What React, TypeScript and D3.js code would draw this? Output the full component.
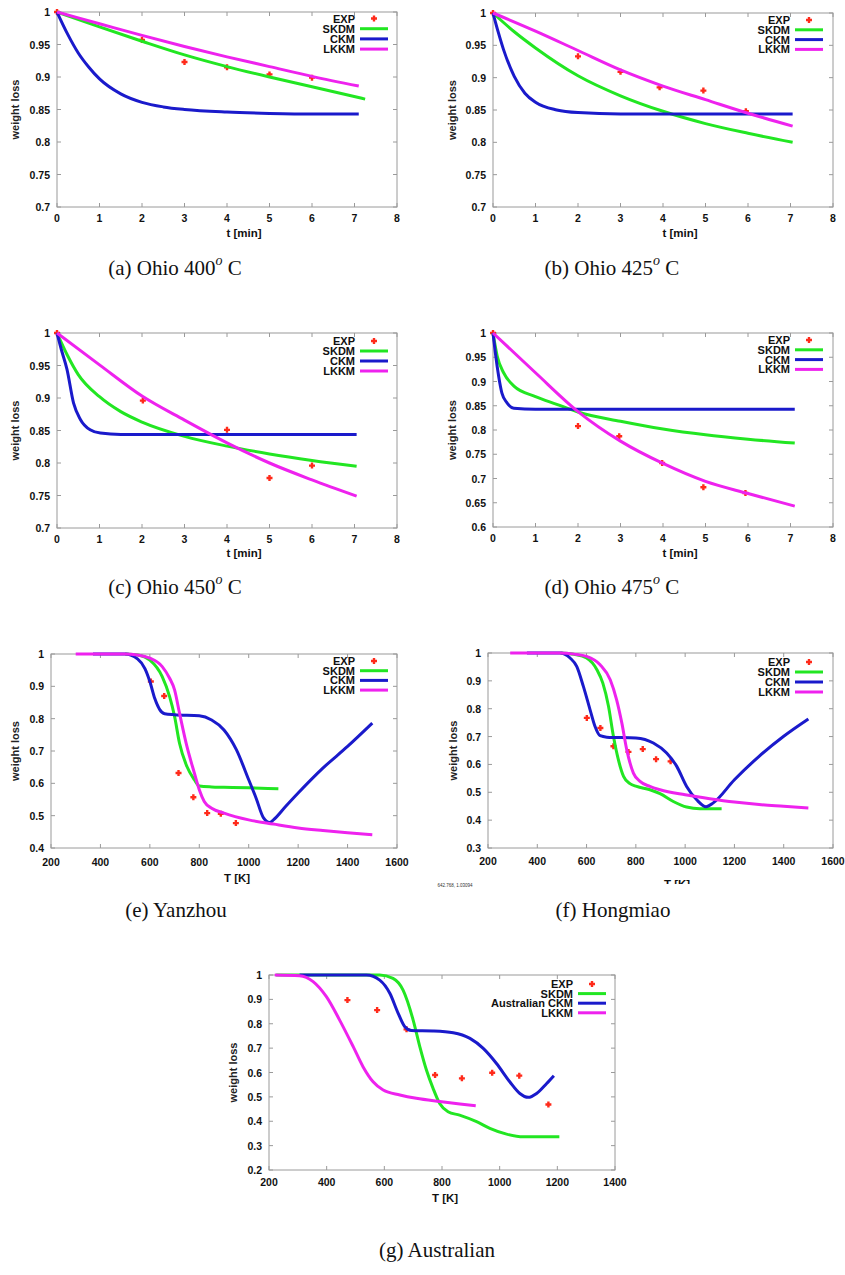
import React from "react";
import * as d3 from "d3";

type P = [number, number];

// ---------- data ----------
const legendLabels = ["EXP", "SKDM", "CKM", "LKKM"];
const legendLabelsAus = ["EXP", "SKDM", "Australian CKM", "LKKM"];

const tMinTicks = [0, 1, 2, 3, 4, 5, 6, 7, 8];
const tempTicks16 = [200, 400, 600, 800, 1000, 1200, 1400, 1600];
const tempTicks14 = [200, 400, 600, 800, 1000, 1200, 1400];
const yTicks70 = [0.7, 0.75, 0.8, 0.85, 0.9, 0.95, 1];
const yTicks60 = [0.6, 0.65, 0.7, 0.75, 0.8, 0.85, 0.9, 0.95, 1];
const yTicks40 = [0.4, 0.5, 0.6, 0.7, 0.8, 0.9, 1];
const yTicks30 = [0.3, 0.4, 0.5, 0.6, 0.7, 0.8, 0.9, 1];
const yTicks20 = [0.2, 0.3, 0.4, 0.5, 0.6, 0.7, 0.8, 0.9, 1];

// (a) Ohio 400
const aEXP: P[] = [[0, 1], [2, 0.957], [3, 0.923], [4, 0.915], [5, 0.904], [6, 0.899]];
const aSKDM: P[] = [[0, 1], [1, 0.977], [2, 0.955], [3, 0.934], [4, 0.916], [5, 0.9], [6, 0.885], [7.25, 0.866]];
const aCKM: P[] = [[0, 1], [0.25, 0.966], [0.5, 0.937], [0.75, 0.915], [1, 0.897], [1.5, 0.874], [2, 0.861], [2.5, 0.854], [3, 0.85], [4, 0.846], [5, 0.844], [6, 0.843], [7.1, 0.843]];
const aLKKM: P[] = [[0, 1], [1, 0.982], [2, 0.964], [3, 0.947], [4, 0.931], [5, 0.916], [6, 0.901], [7.1, 0.886]];

// (b) Ohio 425
const bEXP: P[] = [[0, 1], [2, 0.933], [3, 0.909], [3.92, 0.885], [4.95, 0.88], [5.95, 0.848]];
const bSKDM: P[] = [[0, 1], [0.5, 0.971], [1, 0.946], [2, 0.903], [3, 0.872], [4, 0.848], [5, 0.829], [6, 0.814], [7.05, 0.8]];
const bCKM: P[] = [[0, 1], [0.125, 0.97], [0.25, 0.943], [0.5, 0.902], [0.75, 0.876], [1, 0.862], [1.5, 0.85], [2, 0.846], [3, 0.844], [7.05, 0.844]];
const bLKKM: P[] = [[0, 1], [1, 0.972], [2, 0.942], [3, 0.912], [4, 0.887], [5, 0.866], [6, 0.845], [7.05, 0.825]];

// (c) Ohio 450
const cEXP: P[] = [[0, 1], [2.02, 0.896], [4, 0.851], [5, 0.777], [6, 0.796]];
const cSKDM: P[] = [[0, 1], [0.25, 0.965], [0.5, 0.936], [1, 0.902], [1.5, 0.879], [2, 0.863], [3, 0.841], [4, 0.826], [5, 0.814], [6, 0.804], [7.05, 0.795]];
const cCKM: P[] = [[0, 1], [0.1, 0.975], [0.235, 0.944], [0.39, 0.892], [0.55, 0.867], [0.78, 0.851], [1.02, 0.846], [1.5, 0.844], [7.05, 0.844]];
const cLKKM: P[] = [[0, 1], [1, 0.951], [2, 0.903], [3, 0.866], [4, 0.831], [5, 0.8], [6, 0.774], [7.05, 0.749]];

// (d) Ohio 475
const dEXP: P[] = [[0, 1], [2, 0.808], [2.97, 0.787], [3.98, 0.732], [4.95, 0.682], [5.94, 0.67]];
const dSKDM: P[] = [[0, 1], [0.1, 0.952], [0.25, 0.918], [0.5, 0.89], [1, 0.869], [1.5, 0.853], [2, 0.837], [3, 0.818], [4, 0.802], [5, 0.79], [6, 0.781], [7.1, 0.773]];
const dCKM: P[] = [[0, 1], [0.055, 0.959], [0.133, 0.911], [0.21, 0.876], [0.33, 0.856], [0.49, 0.845], [1, 0.843], [7.1, 0.843]];
const dLKKM: P[] = [[0, 1], [1, 0.918], [2, 0.838], [3, 0.777], [4, 0.731], [5, 0.694], [6, 0.669], [7.1, 0.643]];

// (e) Yanzhou
const eEXP: P[] = [[604, 0.915], [658, 0.87], [716, 0.632], [776, 0.557], [832, 0.508], [887, 0.506], [948, 0.477]];
const eSKDM: P[] = [[500, 1], [550, 0.997], [600, 0.981], [650, 0.93], [680, 0.868], [700, 0.807], [720, 0.724], [750, 0.652], [780, 0.611], [800, 0.592], [850, 0.589], [900, 0.588], [1000, 0.586], [1120, 0.583]];
const eCKM: P[] = [[370, 1], [500, 1], [550, 0.985], [580, 0.955], [600, 0.915], [620, 0.862], [640, 0.828], [660, 0.815], [700, 0.812], [800, 0.809], [850, 0.796], [900, 0.765], [950, 0.704], [1000, 0.611], [1030, 0.554], [1060, 0.493], [1085, 0.479], [1100, 0.487], [1150, 0.529], [1200, 0.57], [1300, 0.647], [1400, 0.714], [1500, 0.786]];
const eLKKM: P[] = [[300, 1], [500, 1], [550, 0.997], [600, 0.987], [650, 0.961], [680, 0.925], [700, 0.889], [720, 0.817], [750, 0.714], [780, 0.632], [800, 0.58], [820, 0.544], [850, 0.523], [900, 0.508], [1000, 0.487], [1100, 0.474], [1200, 0.462], [1300, 0.454], [1400, 0.447], [1500, 0.441]];

// (f) Hongmiao
const fEXP: P[] = [[601, 0.767], [656, 0.731], [709, 0.665], [770, 0.645], [828, 0.655], [882, 0.619], [941, 0.611]];
const fSKDM: P[] = [[494, 1], [550, 0.995], [600, 0.982], [642, 0.94], [666, 0.892], [689, 0.809], [709, 0.701], [729, 0.617], [750, 0.557], [776, 0.531], [803, 0.521], [857, 0.509], [898, 0.495], [952, 0.467], [1006, 0.447], [1060, 0.441], [1148, 0.441]];
const fCKM: P[] = [[358, 1], [493, 1], [533, 0.982], [560, 0.952], [587, 0.88], [614, 0.797], [634, 0.737], [655, 0.703], [682, 0.698], [800, 0.695], [871, 0.677], [925, 0.641], [966, 0.593], [1006, 0.521], [1047, 0.473], [1085, 0.448], [1114, 0.462], [1200, 0.545], [1300, 0.629], [1400, 0.701], [1500, 0.763]];
const fLKKM: P[] = [[290, 1], [493, 1], [550, 0.996], [600, 0.988], [655, 0.958], [696, 0.904], [722, 0.832], [743, 0.749], [763, 0.653], [790, 0.569], [817, 0.539], [857, 0.521], [898, 0.509], [1000, 0.491], [1100, 0.477], [1200, 0.465], [1300, 0.456], [1400, 0.45], [1500, 0.444]];

// (g) Australian
const gEXP: P[] = [[472, 0.897], [575, 0.856], [677, 0.777], [776, 0.59], [869, 0.576], [974, 0.599], [1068, 0.587], [1169, 0.469]];
const gSKDM: P[] = [[225, 1], [584, 1], [630, 0.986], [665, 0.938], [700, 0.815], [723, 0.706], [746, 0.61], [769, 0.535], [792, 0.473], [821, 0.439], [861, 0.425], [920, 0.398], [966, 0.371], [1024, 0.347], [1082, 0.336], [1207, 0.336]];
const gCKM: P[] = [[306, 1], [538, 1], [584, 0.979], [619, 0.925], [648, 0.843], [671, 0.788], [694, 0.772], [769, 0.77], [839, 0.763], [897, 0.74], [943, 0.699], [989, 0.637], [1035, 0.562], [1070, 0.514], [1099, 0.498], [1128, 0.514], [1163, 0.555], [1188, 0.587]];
const gLKKM: P[] = [[220, 1], [306, 0.997], [353, 0.973], [399, 0.911], [445, 0.815], [492, 0.706], [526, 0.624], [561, 0.562], [596, 0.528], [654, 0.508], [711, 0.494], [792, 0.481], [862, 0.471], [917, 0.464]];

// ---------- styles ----------
const GREEN = "#22e622";
const BLUE = "#1a1acb";
const MAGENTA = "#ee22ee";
const RED = "#ff2a1a";
const FRAME = "#9a9a9a";
const SANS = "'Liberation Sans', Arial, sans-serif";
const SERIF = "'Liberation Serif', 'Times New Roman', serif";

interface PanelCfg {
  id: string;
  box: [number, number, number, number]; // left, top, right, bottom
  xDomain: [number, number];
  yDomain: [number, number];
  xTicks: number[];
  yTicks: number[];
  xLabel: string;
  xLabelPos: [number, number];
  yLabelX: number;
  tickDy: number;
  legendRight: number;
  legendTop: number;
  legendStep: number;
  labels: string[];
  exp: P[];
  skdm: P[];
  ckm: P[];
  lkkm: P[];
  clipXLabel?: number;
}

const panels: PanelCfg[] = [
  { id: "a", box: [57, 12, 397, 207], xDomain: [0, 8], yDomain: [0.7, 1], xTicks: tMinTicks, yTicks: yTicks70, xLabel: "t [min]", xLabelPos: [244, 233], yLabelX: 15, tickDy: 11, legendRight: 355, legendTop: 6.5, legendStep: 10.2, labels: legendLabels, exp: aEXP, skdm: aSKDM, ckm: aCKM, lkkm: aLKKM },
  { id: "b", box: [493, 13, 833, 207], xDomain: [0, 8], yDomain: [0.7, 1], xTicks: tMinTicks, yTicks: yTicks70, xLabel: "t [min]", xLabelPos: [680, 233], yLabelX: 452, tickDy: 11, legendRight: 790, legendTop: 7, legendStep: 9.8, labels: legendLabels, exp: bEXP, skdm: bSKDM, ckm: bCKM, lkkm: bLKKM },
  { id: "c", box: [57, 333, 397, 528], xDomain: [0, 8], yDomain: [0.7, 1], xTicks: tMinTicks, yTicks: yTicks70, xLabel: "t [min]", xLabelPos: [244, 553], yLabelX: 15, tickDy: 10.5, legendRight: 355, legendTop: 8, legendStep: 10, labels: legendLabels, exp: cEXP, skdm: cSKDM, ckm: cCKM, lkkm: cLKKM },
  { id: "d", box: [493, 333, 833, 527], xDomain: [0, 8], yDomain: [0.6, 1], xTicks: tMinTicks, yTicks: yTicks60, xLabel: "t [min]", xLabelPos: [680, 553], yLabelX: 452, tickDy: 11, legendRight: 790, legendTop: 7, legendStep: 9.8, labels: legendLabels, exp: dEXP, skdm: dSKDM, ckm: dCKM, lkkm: dLKKM },
  { id: "e", box: [51, 654, 397, 848], xDomain: [200, 1600], yDomain: [0.4, 1], xTicks: tempTicks16, yTicks: yTicks40, xLabel: "T [K]", xLabelPos: [237, 878], yLabelX: 15, tickDy: 14, legendRight: 355, legendTop: 7, legendStep: 9.7, labels: legendLabels, exp: eEXP, skdm: eSKDM, ckm: eCKM, lkkm: eLKKM },
  { id: "f", box: [488, 653, 833, 848], xDomain: [200, 1600], yDomain: [0.3, 1], xTicks: tempTicks16, yTicks: yTicks30, xLabel: "T [K]", xLabelPos: [677, 888], yLabelX: 453, tickDy: 13, legendRight: 790, legendTop: 9, legendStep: 10, labels: legendLabels, exp: fEXP, skdm: fSKDM, ckm: fCKM, lkkm: fLKKM, clipXLabel: 884 },
  { id: "g", box: [269, 975, 615, 1170], xDomain: [200, 1400], yDomain: [0.2, 1], xTicks: tempTicks14, yTicks: yTicks20, xLabel: "T [K]", xLabelPos: [445, 1198], yLabelX: 233, tickDy: 12, legendRight: 573, legendTop: 9, legendStep: 9.6, labels: legendLabelsAus, exp: gEXP, skdm: gSKDM, ckm: gCKM, lkkm: gLKKM },
];

const captions = [
  { label: "(a) Ohio 400", tail: " C", sup: true, x: 175, y: 268 },
  { label: "(b) Ohio 425", tail: " C", sup: true, x: 612, y: 268 },
  { label: "(c) Ohio 450", tail: " C", sup: true, x: 175, y: 587 },
  { label: "(d) Ohio 475", tail: " C", sup: true, x: 612, y: 587 },
  { label: "(e) Yanzhou", tail: "", sup: false, x: 176, y: 910 },
  { label: "(f) Hongmiao", tail: "", sup: false, x: 613, y: 910 },
  { label: "(g)  Australian", tail: "", sup: false, x: 437, y: 1250 },
];

function plusPath(x: number, y: number, r: number) {
  return `M${x - r},${y}H${x + r}M${x},${y - r}V${y + r}`;
}

function Panel({ cfg }: { cfg: PanelCfg }) {
  const [l, t, r, b] = cfg.box;
  const xs = d3.scaleLinear().domain(cfg.xDomain).range([l, r]);
  const ys = d3.scaleLinear().domain(cfg.yDomain).range([b, t]);
  const line = d3
    .line<P>()
    .x((d) => xs(d[0]))
    .y((d) => ys(d[1]))
    .curve(d3.curveMonotoneX);
  const tl = 4;
  const series = [
    { data: cfg.skdm, color: GREEN },
    { data: cfg.ckm, color: BLUE },
    { data: cfg.lkkm, color: MAGENTA },
  ];
  const legendColors = [RED, GREEN, BLUE, MAGENTA];
  const clipId = `clip-xl-${cfg.id}`;
  return (
    <g>
      {/* ticks */}
      {cfg.yTicks.map((v) => (
        <g key={`y${v}`}>
          <line x1={l} x2={l + tl} y1={ys(v)} y2={ys(v)} stroke={FRAME} strokeWidth={1} />
          <line x1={r} x2={r - tl} y1={ys(v)} y2={ys(v)} stroke={FRAME} strokeWidth={1} />
          <text x={l - 7} y={ys(v)} textAnchor="end" dominantBaseline="central" fontFamily={SANS} fontWeight="bold" fontSize={10.5} fill="#111">
            {String(v)}
          </text>
        </g>
      ))}
      {cfg.xTicks.map((v) => (
        <g key={`x${v}`}>
          <line x1={xs(v)} x2={xs(v)} y1={b} y2={b - tl} stroke={FRAME} strokeWidth={1} />
          <line x1={xs(v)} x2={xs(v)} y1={t} y2={t + tl} stroke={FRAME} strokeWidth={1} />
          <text x={xs(v)} y={b + cfg.tickDy} textAnchor="middle" dominantBaseline="central" fontFamily={SANS} fontWeight="bold" fontSize={10.5} fill="#111">
            {String(v)}
          </text>
        </g>
      ))}
      <rect x={l} y={t} width={r - l} height={b - t} fill="none" stroke={FRAME} strokeWidth={1} />
      {/* axis labels */}
      {cfg.clipXLabel !== undefined && (
        <defs>
          <clipPath id={clipId}>
            <rect x={l} y={b + 20} width={r - l} height={cfg.clipXLabel - b - 20} />
          </clipPath>
        </defs>
      )}
      <text
        x={cfg.xLabelPos[0]}
        y={cfg.xLabelPos[1]}
        textAnchor="middle"
        dominantBaseline={cfg.clipXLabel !== undefined ? "auto" : "central"}
        fontFamily={SANS}
        fontWeight="bold"
        fontSize={11.5}
        fill="#111"
        clipPath={cfg.clipXLabel !== undefined ? `url(#${clipId})` : undefined}
      >
        {cfg.xLabel}
      </text>
      <text
        transform={`translate(${cfg.yLabelX},${(t + b) / 2}) rotate(-90)`}
        textAnchor="middle"
        dominantBaseline="central"
        fontFamily={SANS}
        fontWeight="bold"
        fontSize={11}
        fill="#222"
      >
        weight loss
      </text>
      {/* EXP markers */}
      {cfg.exp.map((d, i) => (
        <path key={`e${i}`} d={plusPath(xs(d[0]), ys(d[1]), 3)} stroke={RED} strokeWidth={2.4} fill="none" />
      ))}
      {/* model curves */}
      {series.map((s, i) => (
        <path key={`s${i}`} d={line(s.data) || ""} fill="none" stroke={s.color} strokeWidth={3} strokeLinejoin="round" />
      ))}
      {/* legend */}
      {cfg.labels.map((lab, i) => {
        const y = t + cfg.legendTop + cfg.legendStep * i;
        const x1 = cfg.legendRight + 5;
        const x2 = cfg.legendRight + 33;
        return (
          <g key={`l${i}`}>
            <text x={cfg.legendRight} y={y} textAnchor="end" dominantBaseline="central" fontFamily={SANS} fontWeight="bold" fontSize={11} fill="#111">
              {lab}
            </text>
            {i === 0 ? (
              <path d={plusPath((x1 + x2) / 2, y, 3)} stroke={RED} strokeWidth={2.4} fill="none" />
            ) : (
              <line x1={x1} x2={x2} y1={y} y2={y} stroke={legendColors[i]} strokeWidth={3} />
            )}
          </g>
        );
      })}
    </g>
  );
}

export default function App() {
  return (
    <svg
      width={845}
      height={1275}
      viewBox="0 0 845 1275"
      style={{ position: "absolute", left: 0, top: 0, background: "#fff" }}
    >
      <rect x={0} y={0} width={845} height={1275} fill="#fff" />
      {panels.map((p) => (
        <Panel key={p.id} cfg={p} />
      ))}
      <text x={455} y={885} textAnchor="middle" dominantBaseline="central" fontFamily={SANS} fontSize={4.5} fill="#333">
        642.768, 1.03094
      </text>
      {captions.map((c, i) => (
        <text key={i} x={c.x} y={c.y} textAnchor="middle" dominantBaseline="central" fontFamily={SERIF} fontSize={21} fill="#111">
          {c.label}
          {c.sup && (
            <tspan fontStyle="italic" fontSize={14} dy={-8}>
              o
            </tspan>
          )}
          {c.sup && <tspan dy={8}>{c.tail}</tspan>}
        </text>
      ))}
    </svg>
  );
}
